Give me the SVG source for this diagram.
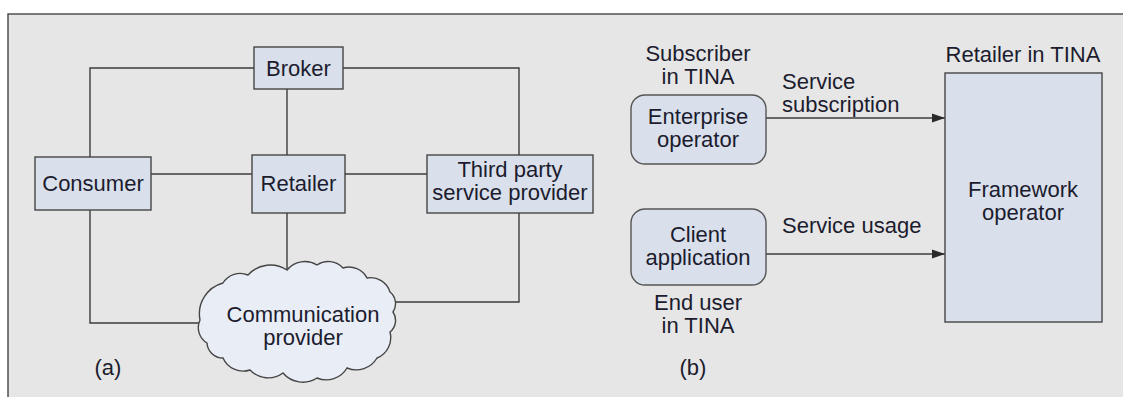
<svg xmlns="http://www.w3.org/2000/svg" width="1123" height="397" viewBox="0 0 1123 397">
<style>
text{font-family:"Liberation Sans",Arial,sans-serif;font-size:22px;fill:#1c1c2e;text-anchor:middle}
.box{fill:#d9e0ec;stroke:#454545;stroke-width:1.4}
.rbox{fill:#d9e0ec;stroke:#555;stroke-width:1.4}
.ln{fill:none;stroke:#3c3c3c;stroke-width:1.4}
.l{text-anchor:start}
</style>
<defs>
<marker id="arr" markerWidth="14" markerHeight="10" refX="13" refY="5" orient="auto" markerUnits="userSpaceOnUse">
<path d="M0,0.5 L13,5 L0,9.5 Z" fill="#2a2a2a"/>
</marker>
</defs>
<rect x="0" y="0" width="1123" height="397" fill="#ffffff"/>
<rect x="8" y="14" width="1130" height="400" fill="#e6e6e6" stroke="#444" stroke-width="1.4"/>
<g id="connectors">
<polyline class="ln" points="254,68 90,68 90,157"/>
<polyline class="ln" points="343,68 519,68 519,155"/>
<line class="ln" x1="287" y1="89" x2="287" y2="155"/>
<line class="ln" x1="151" y1="174" x2="252" y2="174"/>
<line class="ln" x1="345" y1="174" x2="427" y2="174"/>
<polyline class="ln" points="90,210 90,323 201,323"/>
<line class="ln" x1="287" y1="213" x2="287" y2="271"/>
<polyline class="ln" points="519,213 519,302 393,302"/>
<line class="ln" x1="766" y1="118" x2="945" y2="118" marker-end="url(#arr)"/>
<line class="ln" x1="766" y1="254" x2="945" y2="254" marker-end="url(#arr)"/>
</g>
<g id="broker"><rect class="box" x="254" y="47" width="89" height="42"/><text x="298.5" y="76">Broker</text></g>
<g id="consumer"><rect class="box" x="35" y="157" width="116" height="53"/><text x="93" y="191">Consumer</text></g>
<g id="retailer"><rect class="box" x="252" y="155" width="93" height="58"/><text x="298.5" y="191">Retailer</text></g>
<g id="third-party"><rect class="box" x="427" y="155" width="166" height="58"/><text x="510" y="177">Third party</text><text x="510" y="200">service provider</text></g>
<g id="communication-provider">
<path d="M200,320 A32,32 0 0 1 223,283 A20,20 0 0 1 248,275 A30,30 0 0 1 287,270 A23,23 0 0 1 317,265 A20,20 0 0 1 343,268 A20,20 0 0 1 367,278 A20,20 0 0 1 390,292 A15,15 0 0 1 393,312 A15,15 0 0 1 390,332 A22,22 0 0 1 377,358 A24,24 0 0 1 347,368 A24,24 0 0 1 317,378 A26,26 0 0 1 283,373 A25,25 0 0 1 250,370 A22,22 0 0 1 223,358 A16,16 0 0 1 207,343 A18,18 0 0 1 200,320 Z" fill="#e9eef6" stroke="#454545" stroke-width="1.4"/>
<text x="303" y="322">Communication</text><text x="303" y="345">provider</text>
</g>
<text x="108" y="375">(a)</text>
<g id="enterprise-operator">
<text x="698" y="61">Subscriber</text><text x="698" y="84">in TINA</text>
<rect class="rbox" x="631" y="95" width="135" height="69" rx="14"/>
<text x="698" y="124">Enterprise</text><text x="698" y="147">operator</text>
</g>
<g id="client-application">
<rect class="rbox" x="631" y="209" width="135" height="76" rx="14"/>
<text x="698" y="242">Client</text><text x="698" y="265">application</text>
<text x="698" y="310">End user</text><text x="698" y="333">in TINA</text>
</g>
<g id="framework-operator">
<text x="1023" y="62">Retailer in TINA</text>
<rect class="box" x="945" y="73" width="157" height="249"/>
<text x="1023" y="197">Framework</text><text x="1023" y="220">operator</text>
</g>
<text class="l" x="782" y="89">Service</text>
<text class="l" x="782" y="112">subscription</text>
<text class="l" x="782" y="233">Service usage</text>
<text x="693" y="375">(b)</text>
</svg>
